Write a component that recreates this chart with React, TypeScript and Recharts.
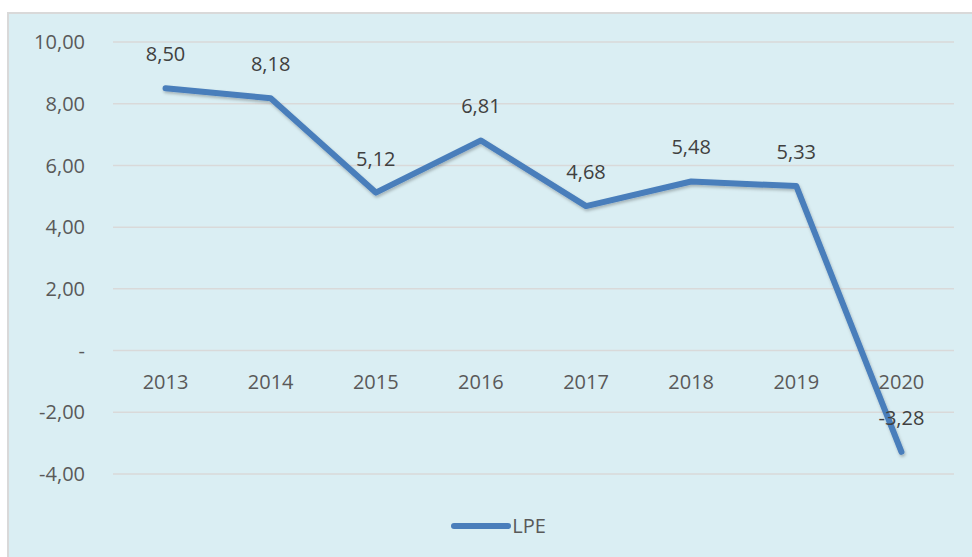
import { CartesianGrid, LabelList, Legend, Line, LineChart, XAxis, YAxis } from "recharts";

const LINE = "#4A7EBB";
const TEXT = "#595959";
const FONT = "'Open Sans', 'Liberation Sans', sans-serif";

const years = ["2013", "2014", "2015", "2016", "2017", "2018", "2019", "2020"];
const lpe = [8.5, 8.18, 5.12, 6.81, 4.68, 5.48, 5.33, -3.28];
const yTicks = [-4, -2, 0, 2, 4, 6, 8, 10];

const W = 966;
const H = 548;
const PLOT_TOP = 28;
const PLOT_H = 432;
const X_H = 30;
const M = { top: PLOT_TOP, right: 21, bottom: H - PLOT_TOP - PLOT_H - X_H, left: 0 };
const Y_MIN = -4;
const Y_MAX = 10;

const data = years.map((year, i) => ({ year, lpe: lpe[i] }));

const fmt = (v: number) => (v === 0 ? "-" : v.toFixed(2).replace(".", ","));

// year labels sit under the zero line, not at the bottom of the plot
function YearTick({ x, payload }: { x?: number; payload?: { value: string } }) {
  const zeroY = PLOT_TOP + ((Y_MAX - 0) / (Y_MAX - Y_MIN)) * PLOT_H;
  return (
    <text x={x} y={zeroY + 38} textAnchor="middle" fill={TEXT} fontSize={20} fontFamily={FONT}>
      {payload?.value}
    </text>
  );
}

function LegendBox() {
  return (
    <div
      style={{
        display: "flex",
        justifyContent: "center",
        alignItems: "center",
        fontFamily: FONT,
        paddingLeft: 12,
      }}
    >
      <svg width={62} height={12}>
        <line x1={4} y1={6} x2={58} y2={6} stroke={LINE} strokeWidth={6} strokeLinecap="round" />
      </svg>
      <span style={{ fontSize: 20, color: TEXT }}>LPE</span>
    </div>
  );
}

export default function App() {
  const pad = (W - 104 - M.right) / years.length / 2;
  return (
    <div
      style={{
        position: "absolute",
        left: 7,
        top: 12,
        border: "2px solid #D9D9D9",
        background: "#DAEEF3",
        width: W,
        height: H,
      }}
    >
      <LineChart width={W} height={H} data={data} margin={M}>
        <defs>
          <filter id="shadow" x="-10%" y="-10%" width="120%" height="130%">
            <feDropShadow dx={1} dy={2} stdDeviation={1.5} floodColor="#000" floodOpacity={0.25} />
          </filter>
        </defs>
        <CartesianGrid vertical={false} stroke="#D9D9D9" strokeWidth={1.5} />
        <XAxis
          dataKey="year"
          axisLine={false}
          tickLine={false}
          height={X_H}
          interval={0}
          padding={{ left: pad, right: pad }}
          tick={<YearTick />}
        />
        <YAxis
          width={104}
          domain={[Y_MIN, Y_MAX]}
          ticks={yTicks}
          axisLine={false}
          tickLine={false}
          tickMargin={22}
          tickFormatter={fmt}
          tick={{ fill: TEXT, fontSize: 20, fontFamily: FONT }}
        />
        <Legend
          verticalAlign="middle"
          content={<LegendBox />}
          wrapperStyle={{ position: "absolute", left: 0, width: W, top: 498, bottom: "auto" }}
        />
        <Line
          type="linear"
          dataKey="lpe"
          name="LPE"
          stroke={LINE}
          strokeWidth={6}
          strokeLinecap="round"
          strokeLinejoin="round"
          dot={false}
          activeDot={false}
          filter="url(#shadow)"
          isAnimationActive={false}
        >
          <LabelList
            dataKey="lpe"
            position="top"
            offset={27}
            formatter={(v: number) => fmt(v)}
            fill="#404040"
            fontSize={20}
            fontFamily={FONT}
          />
        </Line>
      </LineChart>
    </div>
  );
}
